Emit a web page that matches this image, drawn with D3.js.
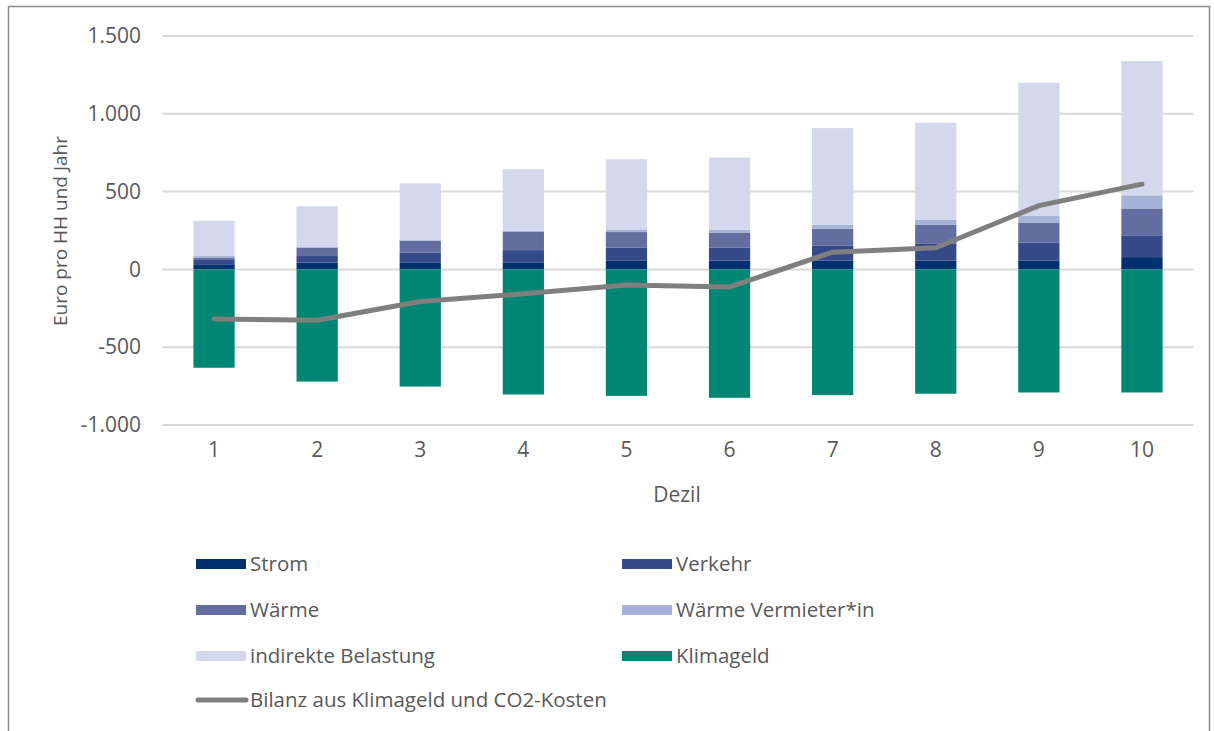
<!DOCTYPE html>
<html>
<head>
<meta charset="utf-8">
<script src="https://cdn.jsdelivr.net/npm/d3@7"></script>
<style>
  body { margin: 0; background: #fff; }
  text { font-family: 'Open Sans', 'Noto Sans', sans-serif; fill: #595959; }
  .grid line { stroke: #d9d9d9; stroke-width: 2px; }
</style>
</head>
<body>
<script>
// Dezile
var deciles = ["1", "2", "3", "4", "5", "6", "7", "8", "9", "10"];

// Euro pro Haushalt und Jahr
var strom      = [33, 44, 42, 42, 58, 56, 56, 56, 56, 79];
var verkehr    = [32, 47, 66, 82, 83, 83, 98, 108, 117, 140];
var waerme     = [11, 49, 77, 117, 99, 98, 108, 122, 128, 173];
var vermieter  = [10, 5, 3, 7, 17, 17, 26, 32, 43, 84];
var indirekt   = [227, 261, 365, 396, 451, 465, 620, 625, 856, 863];
var klimageld  = [-632, -721, -753, -804, -813, -825, -808, -799, -791, -791];
var bilanz     = [-318, -327, -206, -157, -101, -113, 111, 139, 410, 548];

var yTicks = [-1000, -500, 0, 500, 1000, 1500];

var series = [
  { name: "Strom", values: strom, color: "#00306e" },
  { name: "Verkehr", values: verkehr, color: "#364a89" },
  { name: "Wärme", values: waerme, color: "#636d9f" },
  { name: "Wärme Vermieter*in", values: vermieter, color: "#a6b2d7" },
  { name: "indirekte Belastung", values: indirekt, color: "#d3d8ec" }
];
var klimaColor = "#008673";
var lineColor = "#7f7f7f";

var svg = d3.select("body").append("svg")
    .attr("width", 1214)
    .attr("height", 731);

// outer frame
svg.append("rect")
    .attr("x", 8.5).attr("y", 6.5)
    .attr("width", 1201).attr("height", 740)
    .attr("fill", "none")
    .attr("stroke", "#8c8c8c")
    .attr("stroke-width", 1.5);

var x = d3.scaleBand()
    .domain(deciles)
    .range([162.5, 1193.5])
    .paddingInner(0.6)
    .paddingOuter(0.3);

var y = d3.scaleLinear()
    .domain([-1000, 1500])
    .range([425, 36]);

// gridlines
svg.append("g").attr("class", "grid")
  .selectAll("line")
  .data(yTicks)
  .join("line")
    .attr("x1", 162.5).attr("x2", 1193.5)
    .attr("y1", d => y(d)).attr("y2", d => y(d));

// y axis labels (German format, plain hyphen)
var yAxis = d3.axisLeft(y).tickValues(yTicks)
    .tickSize(0).tickPadding(0)
    .tickFormat(d => d3.format(",")(d).replace(/,/g, ".").replace("\u2212", "-"));
svg.append("g")
    .attr("transform", "translate(141,0)")
    .call(yAxis)
    .call(g => g.select(".domain").remove())
    .selectAll("text")
    .style("font-size", "21px")
    .attr("fill", "#595959");

// x axis labels
var xAxis = d3.axisBottom(x).tickSize(0).tickPadding(0);
svg.append("g")
    .attr("transform", "translate(0,442)")
    .call(xAxis)
    .call(g => g.select(".domain").remove())
    .selectAll("text")
    .style("font-size", "21px")
    .attr("fill", "#595959");

// axis titles
svg.append("text")
    .attr("x", 677).attr("y", 502)
    .attr("text-anchor", "middle")
    .style("font-size", "21px")
    .text("Dezil");

svg.append("text")
    .attr("transform", "translate(67,231) rotate(-90)")
    .attr("text-anchor", "middle")
    .style("font-size", "19px")
    .text("Euro pro HH und Jahr");

// stacked positive bars
var rows = deciles.map(function(d, i) {
  var o = { dezil: d };
  series.forEach(s => o[s.name] = s.values[i]);
  return o;
});
var stack = d3.stack().keys(series.map(s => s.name));
var stacked = stack(rows);

svg.append("g").selectAll("g")
  .data(stacked)
  .join("g")
    .attr("fill", (d, i) => series[i].color)
  .selectAll("rect")
  .data(d => d)
  .join("rect")
    .attr("x", d => x(d.data.dezil))
    .attr("width", x.bandwidth())
    .attr("y", d => y(d[1]))
    .attr("height", d => y(d[0]) - y(d[1]));

// Klimageld (negative)
svg.append("g").selectAll("rect")
  .data(klimageld)
  .join("rect")
    .attr("x", (d, i) => x(deciles[i]))
    .attr("width", x.bandwidth())
    .attr("y", y(0))
    .attr("height", d => y(d) - y(0))
    .attr("fill", klimaColor);

// Bilanz line
var line = d3.line()
    .x((d, i) => x(deciles[i]) + x.bandwidth() / 2)
    .y(d => y(d));

svg.append("path")
    .datum(bilanz)
    .attr("d", line)
    .attr("fill", "none")
    .attr("stroke", lineColor)
    .attr("stroke-width", 5)
    .attr("stroke-linecap", "round")
    .attr("stroke-linejoin", "round");

// legend
var legendItems = [
  { name: "Strom", color: series[0].color, x: 196, y: 564 },
  { name: "Verkehr", color: series[1].color, x: 622, y: 564 },
  { name: "Wärme", color: series[2].color, x: 196, y: 610 },
  { name: "Wärme Vermieter*in", color: series[3].color, x: 622, y: 610 },
  { name: "indirekte Belastung", color: series[4].color, x: 196, y: 656 },
  { name: "Klimageld", color: klimaColor, x: 622, y: 656 }
];

var lg = svg.append("g");
legendItems.forEach(function(it) {
  lg.append("rect")
    .attr("x", it.x).attr("y", it.y - 5)
    .attr("width", 50).attr("height", 10)
    .attr("fill", it.color);
  lg.append("text")
    .attr("x", it.x + 54).attr("y", it.y)
    .attr("dy", "0.35em")
    .style("font-size", "20.5px")
    .text(it.name);
});

lg.append("line")
    .attr("x1", 198).attr("x2", 246)
    .attr("y1", 700).attr("y2", 700)
    .attr("stroke", lineColor)
    .attr("stroke-width", 5)
    .attr("stroke-linecap", "round");
lg.append("text")
    .attr("x", 250).attr("y", 700)
    .attr("dy", "0.35em")
    .style("font-size", "20.5px")
    .text("Bilanz aus Klimageld und CO2-Kosten");
</script>
</body>
</html>
